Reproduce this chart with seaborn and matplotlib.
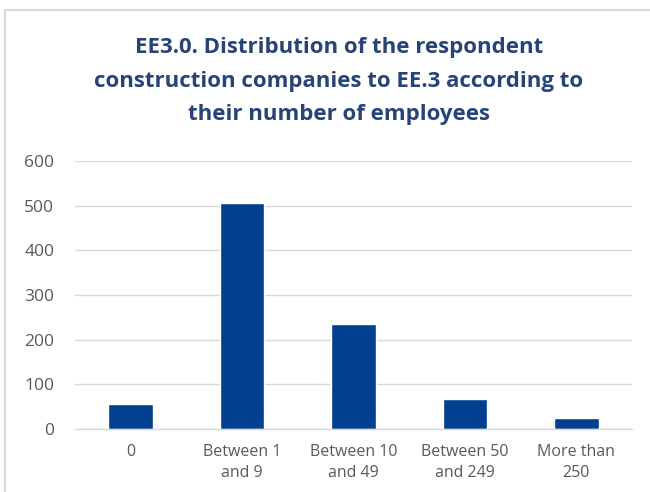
import matplotlib
matplotlib.use("Agg")
import matplotlib.pyplot as plt
import seaborn as sns
import pandas as pd
from matplotlib.lines import Line2D

categories = ["0", "Between 1\nand 9", "Between 10\nand 49", "Between 50\nand 249", "More than\n250"]
values = [56, 505, 236, 67, 25]
yticks = [0, 100, 200, 300, 400, 500, 600]
title = "EE3.0. Distribution of the respondent\nconstruction companies to EE.3 according to\ntheir number of employees"

sns.set_theme(style="white")
plt.rcParams['font.family'] = ['Open Sans', 'DejaVu Sans']

W, H = 650, 492
fig = plt.figure(figsize=(W / 100, H / 100), dpi=100)
ax = fig.add_axes([75 / W, 1 - 429 / H, (632 - 75) / W, (429 - 161) / H])

df = pd.DataFrame({"cat": categories, "val": values})
sns.barplot(data=df, x="cat", y="val", color="#00408F", width=0.4, ax=ax, saturation=1)

ax.set_ylim(0, 600)
ax.set_xlim(-0.5, 4.5)
ax.set_yticks(yticks)
ax.set_yticklabels([str(t) for t in yticks])
ax.yaxis.grid(True, color="#D9D9D9", linewidth=1)
ax.set_axisbelow(True)
for s in ["top", "right", "left"]:
    ax.spines[s].set_visible(False)
ax.spines["bottom"].set_color("#D9D9D9")
ax.spines["bottom"].set_linewidth(1)
ax.set_xlabel("")
ax.set_ylabel("")
ax.tick_params(axis="both", length=0, colors="#595959")
ax.tick_params(axis="y", pad=15, labelsize=12.5)
ax.tick_params(axis="x", pad=11, labelsize=11.5)
for lbl in ax.get_xticklabels():
    lbl.set_linespacing(1.4)

fig.text(339 / W, 1 - 81 / H, title, ha="center", va="center", fontsize=16,
         fontweight="bold", color="#264478", linespacing=1.78)

# chart border
fig.add_artist(Line2D([5 / W, 5 / W], [0, 1 - 10 / H], color="#D9D9D9", linewidth=1.5))
fig.add_artist(Line2D([5 / W, 1], [1 - 10 / H, 1 - 10 / H], color="#D9D9D9", linewidth=1.5))

fig.savefig("out.png", dpi=100)
